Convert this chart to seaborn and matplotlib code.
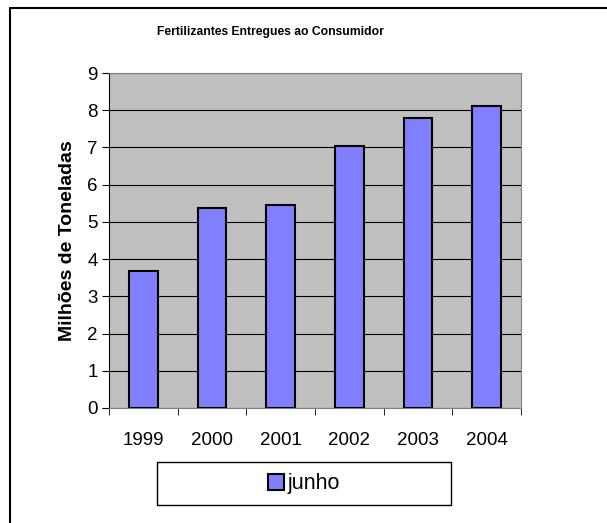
import matplotlib
matplotlib.use("Agg")
import matplotlib.pyplot as plt
import matplotlib.patches as mpatches
from matplotlib.lines import Line2D
import seaborn as sns
import pandas as pd

anos = ["1999", "2000", "2001", "2002", "2003", "2004"]
junho = [3.68, 5.37, 5.45, 7.04, 7.80, 8.12]

df = pd.DataFrame({"ano": anos, "valor": junho})

sns.set_style("white")
plt.rcParams["font.family"] = ["Liberation Sans", "DejaVu Sans"]
plt.rcParams["text.color"] = "black"
plt.rcParams["axes.labelcolor"] = "black"
plt.rcParams["xtick.color"] = "black"
plt.rcParams["ytick.color"] = "black"

fig = plt.figure(figsize=(6.07, 5.23), dpi=100)
ax = fig.add_axes([109 / 607, 1 - 408 / 523, (521 - 109) / 607, (408 - 73) / 523])

# borda superior e esquerda (a imagem original está cortada)
fig.add_artist(Line2D([10 / 607, 1], [1 - 8 / 523, 1 - 8 / 523], transform=fig.transFigure,
                      color="black", linewidth=1.5))
fig.add_artist(Line2D([10 / 607, 10 / 607], [0, 1 - 8 / 523], transform=fig.transFigure,
                      color="black", linewidth=1.5))

sns.barplot(data=df, x="ano", y="valor", ax=ax, color="#8080ff", saturation=1,
            width=0.42, edgecolor="black", linewidth=1.5, zorder=3)

ax.set_facecolor("#c0c0c0")
ax.set_ylim(0, 9)
ax.set_xlim(-0.5, 5.5)
ax.set_yticks(range(0, 10))
ax.yaxis.grid(True, color="black", linewidth=0.8, zorder=0)
ax.set_axisbelow(True)
for s in ["top", "right"]:
    ax.spines[s].set_color("#808080")
ax.spines["left"].set_color("black")
ax.spines["bottom"].set_color("#808080")
ax.tick_params(axis="y", length=5, direction="out", left=True, labelsize=13.5, pad=3)
ax.set_xticks(range(6))
ax.set_xticklabels(anos, fontsize=13.5)
ax.tick_params(axis="x", length=0, pad=17)
ax.set_xticks([i + 0.5 for i in range(-1, 6)], minor=True)
ax.tick_params(axis="x", which="minor", length=5, direction="out", bottom=True, color="black")
ax.set_xlabel("")
ax.set_ylabel("Milhões de Toneladas", fontsize=14, fontweight="bold", labelpad=8)

fig.text(270 / 607, 1 - 32 / 523, "Fertilizantes Entregues ao Consumidor",
         ha="center", va="center", fontsize=8.7, fontweight="bold")

# caixa da legenda
fig.patches.append(mpatches.Rectangle((157 / 607, 1 - 505 / 523), 294 / 607, 43 / 523,
                                      transform=fig.transFigure, fill=True, facecolor="white",
                                      edgecolor="black", linewidth=1))
handle = mpatches.Patch(facecolor="#8080ff", edgecolor="black", linewidth=1.5, label="junho")
fig.legend(handles=[handle], loc="center", bbox_to_anchor=(304 / 607, 1 - 484 / 523),
           frameon=False, fontsize=15.5, handlelength=0.75, handleheight=0.75,
           handletextpad=0.15)

fig.savefig("out.png", dpi=100)
